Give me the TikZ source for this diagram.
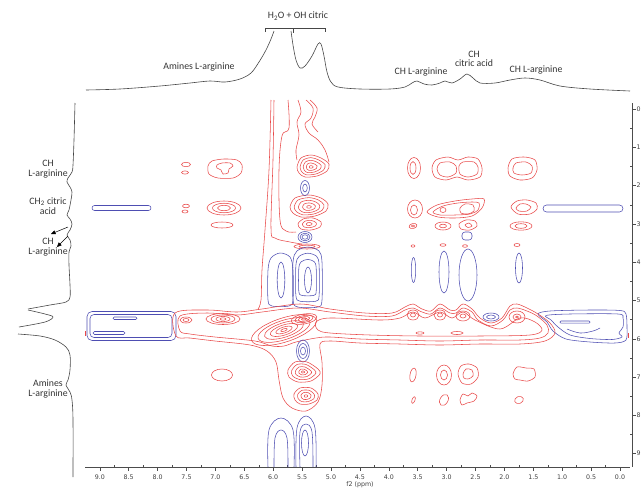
\documentclass[tikz,border=0pt]{standalone}
\usepackage{fontspec}
\setmainfont{Carlito}
\newfontfamily\tickf{DejaVu Sans}
\usetikzlibrary{arrows.meta}
\definecolor{redc}{RGB}{232,72,72}
\definecolor{bluec}{RGB}{78,78,178}
\definecolor{specc}{RGB}{70,70,70}
\tikzset{
  rc/.style={draw=redc, line width=0.55pt},
  bc/.style={draw=bluec, line width=0.55pt},
  spec/.style={draw=specc, line width=0.6pt},
  lbl/.style={font=\fontsize{9.8}{11}\selectfont, align=center, inner sep=0pt, text=black!80},
  tk/.style={font=\tickf\fontsize{6.3}{7}\selectfont, inner sep=0pt, text=black!75},
  axl/.style={draw=black!70, line width=0.5pt},
  arr/.style={draw=black, line width=0.5pt, -{Triangle[length=4.5pt,width=4pt]}}
}
\begin{document}
\begin{tikzpicture}[x=1pt,y=-1pt]
\useasboundingbox (0,0) rectangle (641,488);

% ---------- axes ----------
\draw[axl] (85,467) -- (630,467);
\foreach \p/\t [count=\i] in {0/0.0,0.5/0.5,1/1.0,1.5/1.5,2/2.0,2.5/2.5,3/3.0,3.5/3.5,4/4.0,4.5/4.5,5/5.0,5.5/5.5,6/6.0,6.5/6.5,7/7.0,7.5/7.5,8/8.0,8.5/8.5,9/9.0}{
  \draw[axl] (620-57.8*\p,467) -- ++(0,3.5);
  \node[tk] (bt\i) at (620-57.8*\p,477.5) {\t};
}
\foreach \p in {0.25,0.75,...,8.8}{\draw[axl] (620-57.8*\p,467) -- ++(0,-2.5);}
\node[tk] (f2lab) at (360,485) {f2 (ppm)};

\draw[axl] (632,103) -- (632,467);
\foreach \k in {0,...,9}{
  \draw[axl] (632,109+38.3*\k) -- ++(3.5,0);
  \node[tk, anchor=west] (rt\k) at (636.5,109+38.3*\k) {\k};
}
\foreach \k in {0.5,1.5,...,8.6}{\draw[axl] (632,109+38.3*\k) -- ++(-2.5,0);}

% ---------- top 1D spectrum ----------
\draw[spec] plot[smooth, tension=0.55] coordinates {(86,90)(120,89)(160,86)(190,83)(210,81)(225,82)(240,79)(251,73)(259,62)(266,50)(271,39)(274,31)};
\draw[spec] plot[smooth, tension=0.55] coordinates {(291,31)(293,45)(296,60)(300,68)(305,66)(312,56)(318,44)(321,44)(324,56)(327,72)(331,82)(338,87)(360,89)(390,89)(405,87)(412,83)(417,81)(424,84)(432,85)(440,83)(445,81)(452,83)(460,79)(467,74)(473,78)(480,83)(495,83)(510,80)(525,78)(540,80)(560,86)(590,89)(630,91)};
\draw[spec, line width=0.5pt] (265,32) -- (265,28) -- (325,28) -- (325,32);
\draw[spec, line width=0.5pt] (293,28) -- (293,33);
\node[lbl] (h2o) at (298,16) {H\textsubscript{2}O + OH citric};
\node[lbl] (amt) at (199,67) {Amines L-arginine};
\node[lbl] (cht1) at (421,72) {CH L-arginine};
\node[lbl] (cht2) at (474,59) {CH\\[-1.5pt]citric acid};
\node[lbl] (cht3) at (536,70) {CH L-arginine};

% ---------- left 1D spectrum ----------
\draw[spec] plot[smooth, tension=0.55] coordinates {(75,103)(74,140)(73,165)(72,172)(68,178)(67,182)(70,187)(72,192)(71,200)(69,210)(67,215)(70,219)(72,224)(70,230)(67,235)(70,240)(71,246)(69,252)(69,265)(70,285)(70,297)(66,302)(50,305)(28,309)};
\draw[spec] plot[smooth, tension=0.55] coordinates {(28,310)(45,314)(53,317)(45,322)(19,327)};
\draw[spec] plot[smooth, tension=0.55] coordinates {(18,334)(40,336)(55,340)(66,347)(70,355)(70,370)(68,380)(66,385)(70,392)(72,400)(73,420)(73,477)};
\coordinate (a1s) at (68,227);
\coordinate (a1e) at (51,234);
\coordinate (a2s) at (68,236);
\coordinate (a2e) at (57,247);
\draw[arr] (a1s) -- (a1e);
\draw[arr] (a2s) -- (a2e);
\node[lbl] (l1) at (48,169) {CH\\[-1pt]L-arginine};
\node[lbl] (l2) at (48,206) {CH\textsubscript{2} citric\\[-1pt]acid};
\node[lbl] (l3) at (48,247) {CH\\[-1pt]L-arginine};
\node[lbl] (l4) at (48,389) {Amines\\[-1pt]L-arginine};

% ---------- left cross peaks ----------
\draw[bc, rounded corners=2.5pt] (92,205.5) rectangle (151,210.5);
\draw[rc] (186,164.5) ellipse (4.5 and 2.2);
\draw[rc] (185,172.5) ellipse (3.5 and 1.6);
\draw[rc] (186,206) ellipse (3.5 and 1.8);
\draw[rc] (185,211.5) ellipse (3 and 1.5);
\draw[rc] plot[smooth cycle] coordinates {(208,166)(212,161)(224,159)(237,160)(242,165)(241,173)(233,178)(218,178)(209,174)};
\draw[rc] plot[smooth cycle] coordinates {(217,165)(222,163)(230,163)(233,166)(229,169)(228,173)(223,174)(221,170)(217,168)};
\foreach \f in {1,0.68,0.38}{\draw[rc] (224,208) ellipse ({17*\f} and {7*\f});}
\draw[rc] (222,225) ellipse (11 and 3);
\draw[rc] (222,375) ellipse (10.5 and 6);

% ---------- right cross peaks ----------
\draw[rc] (414,168) ellipse (6.5 and 10.5);
\draw[rc] (413,168) ellipse (3 and 6.5);
\draw[rc] plot[smooth cycle] coordinates {(432,168)(436,160)(448,157)(458,160)(468,157)(478,159)(482,168)(480,177)(468,180)(457,177)(446,180)(435,177)};
\draw[rc] plot[smooth cycle] coordinates {(437,169)(440,163)(450,162)(456,166)(456,173)(448,177)(440,175)};
\draw[rc] plot[smooth cycle] coordinates {(459,166)(463,162)(474,162)(478,167)(477,174)(468,177)(460,174)};
\draw[rc] plot[smooth cycle] coordinates {(508,168)(512,159)(524,157)(535,160)(537,170)(532,178)(520,180)(510,176)};
\draw[rc] plot[smooth cycle] coordinates {(513,168)(516,163)(526,162)(532,166)(531,173)(522,175)(514,173)};

\draw[rc] (415,209) ellipse (7.5 and 9);
\draw[rc] (414,210) ellipse (3.5 and 5);
\draw[rc] plot[smooth cycle] coordinates {(427,212)(437,205)(455,201)(472,199)(484,199)(482,208)(472,216)(455,218)(438,217)};
\draw[rc] plot[smooth cycle] coordinates {(433,212)(443,206)(458,203)(472,202)(479,203)(478,210)(470,214)(455,215)(440,215)};
\draw[rc] (443,210) ellipse (3 and 2.5);
\draw[rc] plot[smooth cycle] coordinates {(460,208)(465,204)(473,205)(474,211)(468,214)(461,213)};
\draw[rc] plot[smooth cycle] coordinates {(511,207)(517,201)(527,200)(536,203)(537,209)(530,214)(518,214)};
\draw[rc] plot[smooth cycle] coordinates {(516,208)(520,204)(526,204)(531,207)(527,211)(519,211)};
\draw[bc, rounded corners=3.5pt] (543,205) rectangle (623,212);

\draw[rc, rotate around={15:(413,226)}] (413,226) ellipse (4 and 2.5);
\draw[rc] (413,226) ellipse (1.8 and 1);
\draw[rc] (443,226) ellipse (8 and 4);
\draw[rc] (443,226) ellipse (3.5 and 1.8);
\draw[rc] plot[smooth cycle] coordinates {(459,224)(466,220)(475,221)(477,226)(470,230)(461,229)};
\draw[rc] plot[smooth cycle] coordinates {(465,225)(469,223)(472,226)(468,227.5)};
\draw[rc] (521,226) ellipse (11 and 4.2);
\draw[rc] (521,226) ellipse (6 and 2.3);
\draw[bc, rounded corners=3pt] (462,232) rectangle (472,240);

\draw[rc] (413,246) ellipse (2 and 1.2);
\draw[rc] (443,245) ellipse (3 and 1.3);
\draw[rc] (465,246) ellipse (2.5 and 1.3);
\draw[rc] (517,245) ellipse (3 and 1.5);

\draw[bc] (413.5,270) ellipse (2.2 and 12.5);
\draw[bc] (444,272) ellipse (5 and 21);
\draw[bc] (468,275) ellipse (9 and 26);
\draw[bc] (519,268) ellipse (3.5 and 15);

% below band, right
\draw[rc, rotate around={-10:(413,375)}] (413,375) ellipse (3 and 7);
\draw[rc] (444,375) ellipse (7.5 and 10);
\draw[rc] (444,375) ellipse (3.5 and 5);
\draw[rc] plot[smooth cycle] coordinates {(458,374)(461,366)(469,364)(477,368)(478,377)(471,384)(462,383)};
\draw[rc] plot[smooth cycle] coordinates {(463,374)(466,369)(472,370)(473,376)(468,379)(464,378)};
\draw[rc] plot[smooth cycle] coordinates {(513,374)(517,367)(526,368)(534,369)(535,377)(528,381)(520,380)(515,379)};
\draw[rc, rotate around={-20:(413.5,400)}] (413.5,400) ellipse (1.5 and 3.5);
\draw[rc, rotate around={-30:(444,400)}] (444,400) ellipse (4 and 6);
\draw[rc] plot[smooth cycle] coordinates {(460,400)(463,394)(468,396)(472,393)(477,396)(474,401)(467,403)(462,405)};
\draw[rc, rotate around={20:(519,400)}] (519,400) ellipse (4.5 and 3.5);

% ---------- vertical band (upper) ----------
\draw[rc] plot[smooth, tension=0.6] coordinates {(271,100)(269,170)(265,230)(262,270)(261,300)(258,309)};
\draw[rc] plot[smooth, tension=0.6] coordinates {(274,100)(273,160)(271,228)(275,238)(290,242)(302,244)};
\draw[rc] plot[smooth, tension=0.6] coordinates {(288,100)(289,128)(282,136)(279,170)(280,220)(286,231)(296,232)};
\draw[rc] plot[smooth, tension=0.6] coordinates {(298,100)(301,112)(297,122)(299,135)(296,150)(297,160)};
\draw[rc] plot[smooth, tension=0.6] coordinates {(306,100)(313,108)(311,118)(305,124)(309,133)(318,140)(325,150)(329,162)};
\draw[rc] plot[smooth, tension=0.6] coordinates {(310,100)(317,108)(315,117)(312,124)(318,132)};
\foreach \f in {1,0.78,0.56,0.34,0.12}{
  \draw[rc, shift={(311,167)}, scale=\f] plot[smooth cycle] coordinates {(-14,0)(-10,-9)(0,-12)(10,-9)(18,-3)(16,4)(6,9)(-6,10)(-12,6)};
  \draw[rc, shift={(309,207)}, scale=\f] plot[smooth cycle] coordinates {(-19,0)(-14,-9)(0,-12)(12,-9)(19,-3)(17,4)(6,9)(-8,10)(-16,6)};
}
\foreach \f in {1,0.6,0.25}{
  \draw[rc, shift={(309,224)}, scale=\f] plot[smooth cycle] coordinates {(-11,0)(-6,-5)(4,-6)(12,-2)(11,3)(2,6)(-8,5)};
}
\draw[bc] (305,188) ellipse (4.5 and 7.5);
\draw[bc] (305,188) ellipse (2.3 and 4);
\draw[bc] (305,237) ellipse (7 and 5.5);
\draw[bc] (305,237) ellipse (5 and 3.8);
\draw[bc] (305,237) ellipse (3 and 2.2);
\draw[rc] (307,246.5) ellipse (13 and 2.5);
\draw[rc] (307,246.5) ellipse (8 and 1.3);

% blue columns (upper)
\draw[bc] plot[smooth cycle] coordinates {(268,300)(268,270)(271,258)(280,253)(290,257)(293,270)(293,300)(289,306)(272,306)};
\draw[bc] (281,280) ellipse (3.8 and 18);
\foreach \f in {1,0.8,0.6}{
  \draw[bc, shift={(307.5,278)}, scale=\f] plot[smooth cycle] coordinates {(-14.5,22)(-14.5,-16)(-10.5,-27)(0.5,-31)(11.5,-27)(14.5,-16)(14.5,22)(10.5,29)(-9.5,29)};
}
\draw[bc] (308,280) ellipse (3.5 and 13);

% ---------- horizontal band ----------
\draw[bc, rounded corners=5pt] (87,311.5) rectangle (176,340.5);
\draw[bc, rounded corners=4pt] (90,314.5) rectangle (172,337.5);
\draw[bc, rounded corners=1.2pt] (113,317) rectangle (137,319.5);
\draw[bc, rounded corners=1.5pt] (93,331.5) rectangle (125,334.5);
\draw[rc] (85.5,331) -- (85.5,335.5);

\draw[bc] plot[smooth cycle] coordinates {(538,314)(550,311)(590,310)(620,310.5)(626,314)(627,328)(626,340)(615,343)(590,342)(566,339)(553,331)(547,322)};
\draw[bc] plot[smooth cycle] coordinates {(546,315.5)(570,314)(618,314)(623,318)(623,327)(619,333)(622,337)(612,339.5)(590,338.5)(570,335)(558,327)(551,320)};
\draw[bc, rounded corners=1pt] (560,321) rectangle (590,323.2);
\draw[bc] plot[smooth, tension=0.6] coordinates {(567,329)(580,333)(593,331)(600,328)};
\draw[rc] (628.5,333) -- (628.5,338);
\draw[bc] (491,317) ellipse (8 and 4);
\draw[bc] (491,317) ellipse (4.5 and 2);

\draw[rc] plot[smooth cycle, tension=0.55] coordinates {(175,313)(207,310)(237,312)(262,309)(300,304)(330,309)(365,313)(392,313)(405,307)(413,304)(422,309)(431,311)(440,304)(450,310)(456,310)(463,304)(472,309)(480,318)(491,323)(502,318)(510,306)(517,304)(527,308)(538,314)(550,323)(555,333)(545,341)(520,344)(480,344)(440,345)(400,344)(360,343)(330,341)(320,344)(322,362)(322,385)(318,402)(306,411)(292,408)(283,398)(279,380)(276,362)(267,351)(250,345)(215,341)(190,338)(176,336)};
\draw[rc] plot[smooth cycle, tension=0.55] coordinates {(180,316)(207,313)(237,315)(262,312)(298,308)(330,312)(365,316)(392,316)(405,310)(413,308)(422,312)(431,314)(440,308)(450,313)(456,313)(463,308)(472,312)(478,320)(491,326)(503,320)(510,310)(517,308)(527,311)(537,316)(547,325)(548,333)(540,338)(520,340)(480,340)(440,341)(400,340)(360,339)(330,337)(316,338)(296,342)(284,346)(272,346)(255,341)(215,337)(190,334)(180,331)};
\draw[rc] plot[smooth cycle, tension=0.55] coordinates {(330,318)(380,320)(400,318)(413,312)(425,318)(440,312)(452,318)(463,312)(475,320)(500,329)(520,318)(535,322)(542,330)(530,335)(480,336)(420,336)(370,335)(330,333)(318,330)(316,322)};
\foreach \cx in {413,440}{\draw[rc] (\cx,315) ellipse (6 and 5); \draw[rc] (\cx,315) ellipse (2.5 and 2);}
\draw[rc] (463,316) ellipse (7 and 5);
\draw[rc] (463,316) ellipse (3 and 2);
\draw[rc] (517,317) ellipse (8 and 6);
\draw[rc] (517,317) ellipse (4 and 3);
\draw[rc] (517,317) ellipse (1.5 and 1);
\draw[rc] (420,333) ellipse (4 and 1.2);
\draw[rc] (457,333) ellipse (6 and 1.5);

\foreach \ea/\eb in {17/5.5,12/4,7/2.6,3/1.2}{\draw[rc] (223,319) ellipse ({\ea} and {\eb});}
\draw[rc] (186,320) ellipse (6 and 3);
\draw[rc] (186,320) ellipse (3 and 1.5);
\foreach \f in {1,0.8,0.6,0.42,0.25,0.1}{
  \draw[rc, rotate around={18:(284,330)}] (284,330) ellipse ({34*\f} and {12*\f});
}
\foreach \f in {1,0.7,0.45,0.2}{
  \draw[rc, rotate around={10:(304,319)}] (304,319) ellipse ({13*\f} and {5*\f});
}

% ---------- lower lobes ----------
\draw[bc] (303,351) ellipse (6.5 and 11);
\draw[bc] (303,351) ellipse (4.5 and 7.5);
\draw[bc] (303,351) ellipse (2.5 and 4);
\foreach \f in {1,0.75,0.5,0.28,0.1}{
  \draw[rc, shift={(303,372)}, scale=\f] plot[smooth cycle] coordinates {(-15,-2)(-8,-10)(4,-10)(15,-3)(17,2)(8,9)(-5,10)(-14,5)};
}
\foreach \f in {1,0.7,0.42,0.15}{
  \draw[rc, shift={(306,396)}, scale=\f] plot[smooth cycle] coordinates {(-12,-2)(-6,-8)(5,-8)(12,-2)(11,4)(3,8)(-6,8)(-11,4)};
}

% ---------- bottom blue ----------
\draw[bc] plot[smooth, tension=0.6] coordinates {(268,467)(269,430)(281,418)(293,430)(294,467)};
\draw[bc] plot[smooth, tension=0.6] coordinates {(274,467)(275,438)(281,430)(287,438)(288,467)};
\draw[bc] plot[smooth, tension=0.6] coordinates {(296,467)(297,428)(306,416)(315,428)(316,467)};
\draw[bc] plot[smooth, tension=0.6] coordinates {(300,467)(300,432)(306,424)(312,432)(313,467)};
\draw[bc] (305,443) ellipse (3.5 and 13);
\end{tikzpicture}
\end{document}
